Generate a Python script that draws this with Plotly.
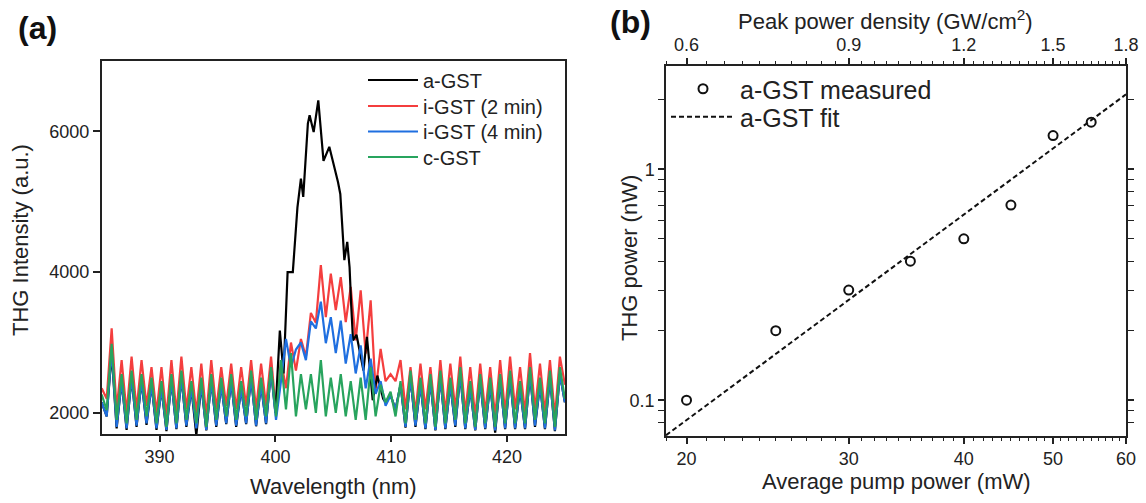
import math
import plotly.graph_objects as go

W, H = 1146, 503
FONT = "Liberation Sans, Arial, sans-serif"

# ---------------- Panel (a) data ----------------
wl = [round(385 + 0.43 * i, 2) for i in range(94)]

green = [2260, 2040, 2980, 1900, 2550, 1850, 2600, 1900, 2550, 1950,
         2500, 1850, 2450, 1800, 2550, 1850, 2600, 1900, 2450, 1850,
         2500, 1800, 2550, 1900, 2500, 1950, 2550, 1900, 2450, 1950,
         2600, 1900, 2500, 1950, 2650, 1950, 2750, 2050, 2850, 1950,
         2550, 2050, 2550, 2000, 2750, 1950, 2500, 2000, 2550, 1950,
         2450, 1900, 2500, 1900, 2650, 1950, 2400, 2150, 2300, 1950,
         2450, 1850, 2600, 1900, 2500, 1850, 2550, 1800, 2600, 1850,
         2500, 1900, 2650, 1850, 2450, 1800, 2550, 1850, 2500, 1800,
         2550, 1850, 2600, 1850, 2450, 1850, 2650, 1900, 2500, 1850,
         2600, 1800, 2650, 2200]

red = [2350, 2200, 3200, 2050, 2750, 2000, 2800, 2050, 2750, 2100,
       2650, 2000, 2650, 1950, 2750, 2000, 2800, 2050, 2650, 2000,
       2700, 1950, 2750, 2050, 2650, 2100, 2700, 2050, 2650, 2100,
       2750, 2050, 2700, 2100, 2800, 2000, 2750, 2350, 3000, 2600,
       3050, 2800, 3420, 3280, 4100, 3360, 3980, 3460, 3930, 3290,
       3790, 3030, 3740, 2840, 3600, 2320, 2910, 2450, 2550, 2450,
       2750, 2050, 2650, 2000, 2700, 2050, 2650, 1950, 2750, 2000,
       2700, 2050, 2800, 2000, 2650, 1950, 2700, 2000, 2650, 1950,
       2750, 2000, 2800, 2050, 2650, 2000, 2850, 2050, 2700, 2000,
       2750, 1950, 2800, 2400]

blue = [2150, 1950, 2900, 1800, 2450, 1780, 2500, 1820, 2450, 1850,
        2400, 1780, 2350, 1760, 2450, 1780, 2500, 1820, 2350, 1780,
        2400, 1760, 2450, 1820, 2400, 1850, 2450, 1820, 2350, 1850,
        2500, 1820, 2400, 1850, 2600, 1900, 2450, 3050, 2650, 2900,
        3000, 2750, 3300, 3200, 3580, 2990, 3360, 2850, 3310, 2700,
        3120, 2560, 2960, 2350, 2770, 2270, 2450, 2100, 2250, 2050,
        2400, 1800, 2500, 1820, 2400, 1780, 2450, 1760, 2500, 1780,
        2400, 1820, 2550, 1780, 2350, 1760, 2450, 1780, 2400, 1750,
        2450, 1780, 2500, 1780, 2350, 1780, 2550, 1820, 2400, 1780,
        2500, 1750, 2550, 2150]

black_left = [2150, 1950, 2850, 1780, 2450, 1760, 2500, 1800, 2450, 1830,
              2400, 1760, 2350, 1740, 2450, 1770, 2500, 1800, 2350, 1680,
              2400, 1750, 2450, 1800, 2400, 1840, 2450, 1800, 2350, 1840,
              2500, 1810, 2400, 1840, 2600]
black_peak_wl = [400.00, 400.38, 400.70, 401.05, 401.50, 401.90, 402.20, 402.40,
                 402.80, 402.95, 403.30, 403.70, 404.15, 404.65, 405.00, 405.40,
                 405.60, 405.95, 406.20, 406.40, 406.55, 406.70, 407.00, 407.60,
                 407.90, 408.40, 408.80, 409.30]
black_peak = [2000, 3170, 2560, 4000, 4000, 4920, 5330, 5070,
              6110, 6230, 5990, 6440, 5580, 5780, 5560, 5280,
              5110, 4170, 4430, 4070, 3500, 3030, 3110, 2600,
              3080, 2180, 2530, 2200]
black_right = [2150, 2250, 2050, 2400, 1790, 2500, 1800, 2400, 1770, 2450,
               1750, 2500, 1770, 2400, 1800, 2550, 1770, 2350, 1750, 2450,
               1770, 2400, 1720, 2450, 1770, 2500, 1770, 2350, 1770, 2550,
               1800, 2400, 1770, 2500, 1740, 2550, 2150]

black_wl = wl[:35] + black_peak_wl + wl[57:]
black = black_left + black_peak + black_right

# ---------------- Panel (b) data ----------------
pump_mw = [20, 25, 30, 35, 40, 45, 50, 55]
thg_nw = [0.10, 0.20, 0.30, 0.40, 0.50, 0.70, 1.40, 1.60]
fit_mw = [19, 60]
fit_nw = [0.0705, 2.11]

bottom_ticks = [20, 30, 40, 50, 60]
top_ticks = [0.6, 0.9, 1.2, 1.5, 1.8]
bottom_minor = [19] + [v for v in range(21, 60) if v % 10 != 0]
top_minor = [round(0.03 * v, 2) for v in bottom_minor]
y_minor = [0.08, 0.09, 0.2, 0.3, 0.4, 0.5, 0.6, 0.7, 0.8, 0.9, 2]

fig = go.Figure()

LW = 2.2
fig.add_trace(go.Scatter(x=wl, y=red, mode="lines", name="i-GST (2 min)",
                         line=dict(color="#F43E3E", width=LW), legend="legend4"))
fig.add_trace(go.Scatter(x=black_wl, y=black, mode="lines", name="a-GST",
                         line=dict(color="#000000", width=LW), legend="legend"))
fig.add_trace(go.Scatter(x=wl, y=blue, mode="lines", name="i-GST (4 min)",
                         line=dict(color="#1F6FE0", width=LW), legend="legend5"))
fig.add_trace(go.Scatter(x=wl, y=green, mode="lines", name="c-GST",
                         line=dict(color="#28A45E", width=LW), legend="legend6"))

fig.add_trace(go.Scatter(x=pump_mw, y=thg_nw, mode="markers", name="a-GST measured",
                         marker=dict(symbol="circle-open", size=9, color="#111",
                                     line=dict(width=2, color="#111")),
                         xaxis="x2", yaxis="y2", legend="legend2"))
fig.add_trace(go.Scatter(x=fit_mw, y=fit_nw, mode="lines", name="a-GST fit",
                         line=dict(color="#111", width=2, dash="5px,3px"),
                         xaxis="x2", yaxis="y2", legend="legend3"))
fig.add_trace(go.Scatter(x=[top_ticks[0]], y=[thg_nw[0]], mode="markers",
                         marker=dict(opacity=0), showlegend=False, hoverinfo="skip",
                         xaxis="x3", yaxis="y2"))

AX = dict(showline=True, linecolor="#222", linewidth=1.5, showgrid=False, zeroline=False,
          automargin=False,
          ticks="outside", tickcolor="#222", tickwidth=1.5, ticklen=6,
          tickfont=dict(family=FONT, size=18, color="#222"))
MINOR = dict(tickmode="array", ticks="outside", ticklen=3, tickwidth=1.2, tickcolor="#222")


def leg(xpx, ypx, size, iw):
    return dict(x=xpx / W, y=1 - ypx / H, xanchor="left", yanchor="middle",
                bgcolor="rgba(0,0,0,0)", itemwidth=iw,
                font=dict(family=FONT, size=size, color="#222"))


def txt(text, xpx, ypx, size=22, angle=0, bold=False):
    return dict(text=f"<b>{text}</b>" if bold else text, x=xpx / W, y=1 - ypx / H,
                xref="paper", yref="paper", xanchor="center", yanchor="middle",
                showarrow=False, textangle=angle,
                font=dict(family=FONT, size=size, color="#111" if bold else "#222"))


fig.update_layout(
    width=W, height=H, margin=dict(l=0, r=0, t=0, b=0),
    paper_bgcolor="white", plot_bgcolor="white",
    font=dict(family=FONT, color="#222"),
    xaxis=dict(AX, domain=[101.7 / W, 565 / W], range=[385, 425], anchor="y",
               tickvals=[390, 400, 410, 420], mirror=True),
    yaxis=dict(AX, domain=[1 - 434 / H, 1 - 61 / H], range=[1700, 7000], anchor="x",
               tickvals=[2000, 4000, 6000], mirror=True, ticklen=7),
    xaxis2=dict(AX, type="log", domain=[666 / W, 1126 / W],
                range=[math.log10(19), math.log10(60)], anchor="y2",
                tickmode="array", tickvals=bottom_ticks, ticktext=[str(v) for v in bottom_ticks],
                minor=dict(MINOR, tickvals=bottom_minor)),
    xaxis3=dict(AX, type="log", overlaying="x2", side="top", anchor="y2",
                range=[math.log10(0.57), math.log10(1.8)],
                tickmode="array", tickvals=top_ticks, ticktext=[str(v) for v in top_ticks],
                minor=dict(MINOR, tickvals=top_minor)),
    yaxis2=dict(AX, type="log", domain=[1 - 436 / H, 1 - 66 / H],
                range=[math.log10(0.07), math.log10(2.8)], anchor="x2",
                tickmode="array", tickvals=[0.1, 1], ticktext=["0.1", "1"], mirror="allticks",
                minor=dict(MINOR, tickvals=y_minor)),
    legend=leg(363, 80, 20, 50),
    legend4=leg(363, 106, 20, 50),
    legend5=leg(363, 131.5, 20, 50),
    legend6=leg(363, 157, 20, 50),
    legend2=leg(666, 89, 25, 64),
    legend3=leg(666, 117, 25, 64),
    annotations=[
        txt("(a)", 37, 28, size=32, bold=True),
        txt("(b)", 630, 22, size=32, bold=True),
        txt("Wavelength (nm)", 333, 486),
        txt("THG Intensity (a.u.)", 20, 240, angle=-90),
        txt("Average pump power (mW)", 896, 481),
        txt("Peak power density (GW/cm<sup>2</sup>)", 885, 20),
        txt("THG power (nW)", 629, 258, angle=-90),
    ],
)

fig.write_html("out.html", config={"displayModeBar": False},
               post_script="document.body.style.margin='0px';document.body.style.padding='0px';")
